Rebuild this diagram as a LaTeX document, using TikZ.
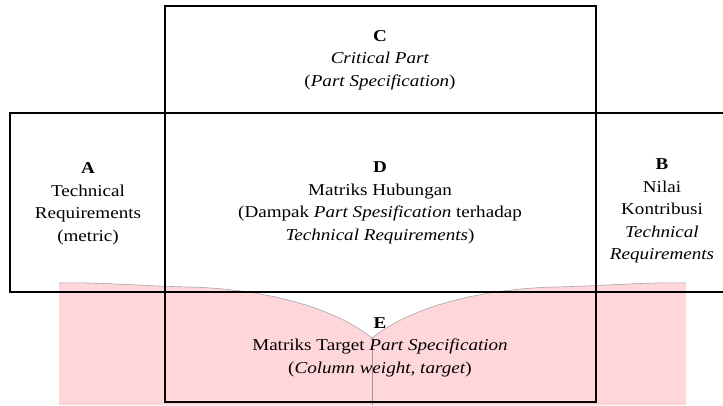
\documentclass[tikz,border=0pt]{standalone}
\usepackage{fontspec}
\setmainfont{Liberation Serif}[FakeStretch=1.15]
\usepackage{tikz}
\usetikzlibrary{positioning}
\definecolor{pagepink}{RGB}{255,215,219}

\begin{document}
\begin{tikzpicture}[x=1pt, y=1pt, every node/.style={font=\fontsize{16.6}{22.5}\selectfont, align=center, inner sep=0pt}, boxline/.style={line width=2.4pt, black}]
\useasboundingbox (0,0) rectangle (723,405);
\fill[pagepink] (59,0) -- (59,122) .. controls (100,123) and (140,119) .. (190,118) .. controls (260,116) and (330,100) .. (372,67) .. controls (414,100) and (484,116) .. (554,118) .. controls (604,119) and (644,123) .. (686,122) -- (686,0) -- cycle;
\draw[gray!70, line width=0.6pt] (59,122) .. controls (100,123) and (140,119) .. (190,118) .. controls (260,116) and (330,100) .. (372,67) .. controls (414,100) and (484,116) .. (554,118) .. controls (604,119) and (644,123) .. (686,122);
\draw[gray!80, line width=0.5pt] (372,67) -- (372,0);
\draw[boxline] (165,3) rectangle (596,399);
\draw[boxline] (10,113) rectangle (730,292);
\node (partC) at (380,345) {\textbf{C}\\ \textit{Critical Part}\\ (\textit{Part Specification})};
\node (reqA) at (88,201) {\textbf{A}\\ Technical\\ Requirements\\ (metric)};
\node (matD) at (380,202) {\textbf{D}\\ Matriks Hubungan\\ (Dampak \textit{Part Spesification} terhadap\\ \textit{Technical Requirements})};
\node (nilaiB) at (662,194) {\textbf{B}\\ Nilai\\ Kontribusi\\ \textit{Technical}\\ \textit{Requirements}};
\node (targetE) at (380,58) {\textbf{E}\\ Matriks Target \textit{Part Specification}\\ (\textit{Column weight, target})};
\end{tikzpicture}
\end{document}
